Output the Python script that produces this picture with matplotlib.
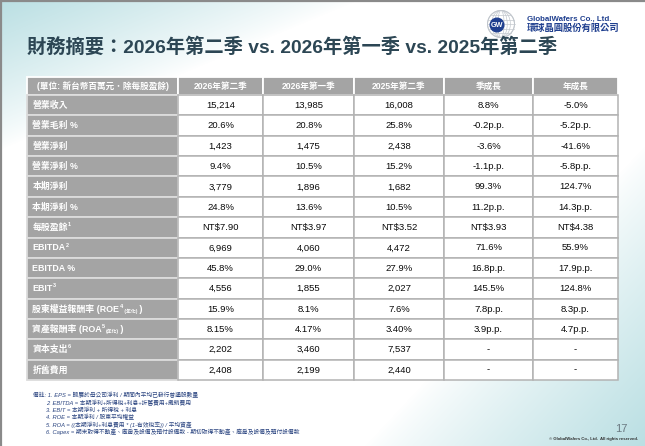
import numpy as np
import matplotlib
matplotlib.use("Agg")
import matplotlib.pyplot as plt
from matplotlib.patches import Rectangle, Circle, Ellipse

# ---------------- data ----------------
title = "財務摘要：2026年第二季 vs. 2026年第一季 vs. 2025年第二季"
header = ["(單位: 新台幣百萬元．除每股盈餘)", "2026年第二季", "2026年第一季", "2025年第二季", "季成長", "年成長"]

# row labels as segments: (text, kind) kind: n = normal, sup = superscript, sub = subscript
row_labels = [
    [("營業收入", "n")],
    [("營業毛利 %", "n")],
    [("營業淨利", "n")],
    [("營業淨利 %", "n")],
    [("本期淨利", "n")],
    [("本期淨利 %", "n")],
    [("每股盈餘", "n"), ("1", "sup")],
    [("EBITDA", "n"), ("2", "sup")],
    [("EBITDA %", "n")],
    [("EBIT", "n"), ("3", "sup")],
    [("股東權益報酬率 (ROE", "n"), ("4", "sup"), (" (年化)", "sub"), (" )", "n")],
    [("資產報酬率 (ROA", "n"), ("5", "sup"), ("(年化)", "sub"), (" )", "n")],
    [("資本支出", "n"), ("6", "sup")],
    [("折舊費用", "n")],
]
q2_2026 = ["15,214", "20.6%", "1,423", "9.4%", "3,779", "24.8%", "NT$7.90", "6,969", "45.8%", "4,556", "15.9%", "8.15%", "2,202", "2,408"]
q1_2026 = ["13,985", "20.8%", "1,475", "10.5%", "1,896", "13.6%", "NT$3.97", "4,060", "29.0%", "1,855", "8.1%", "4.17%", "3,460", "2,199"]
q2_2025 = ["16,008", "25.8%", "2,438", "15.2%", "1,682", "10.5%", "NT$3.52", "4,472", "27.9%", "2,027", "7.6%", "3.40%", "7,537", "2,440"]
qoq = ["8.8%", "-0.2p.p.", "-3.6%", "-1.1p.p.", "99.3%", "11.2p.p.", "NT$3.93", "71.6%", "16.8p.p.", "145.5%", "7.8p.p.", "3.9p.p.", "-", "-"]
yoy = ["-5.0%", "-5.2p.p.", "-41.6%", "-5.8p.p.", "124.7%", "14.3p.p.", "NT$4.38", "55.9%", "17.9p.p.", "124.8%", "8.3p.p.", "4.7p.p.", "-", "-"]

footnotes = [
    "備註: 1. EPS = 歸屬於母公司淨利 / 期間內平均已發行普通股數量",
    "2. EBITDA = 本期淨利+所得稅+利息+折舊費用+攤銷費用",
    "3. EBIT = 本期淨利 + 所得稅 + 利息",
    "4. ROE = 本期淨利 / 股東平均權益",
    "5. ROA = ((本期淨利+利息費用 * (1-有效稅率)) / 平均資產",
    "6. Capex = 期末取得不動產、廠房及設備及預付設備款 - 期初取得不動產、廠房及設備及預付設備款",
]

# ---------------- figure ----------------
W, H = 645, 446
fig = plt.figure(figsize=(W / 100, H / 100), dpi=100)
ax = fig.add_axes([0, 0, 1, 1])
FAM = ['Liberation Sans', 'Noto Sans CJK TC', 'DejaVu Sans']
CJK = ['Noto Sans CJK TC', 'Liberation Sans', 'DejaVu Sans']

# background gradient
yy, xx = np.mgrid[0:H, 0:W] + 0.5
d1 = xx / 360 + yy / 150
w1 = np.clip(1 - d1, 0, 1) ** 0.85
d2 = (W - xx) / 280 + (H - yy) / 300
w2 = np.clip(1 - d2, 0, 1) ** 0.85
wt = np.maximum(w1, w2)
teal = np.array([0.73, 0.875, 0.89])
img = 1 - wt[..., None] * (1 - teal)
ax.imshow(img, extent=(0, W, H, 0), zorder=0, aspect='auto', interpolation='bilinear')
ax.set_xlim(0, W)
ax.set_ylim(H, 0)
ax.axis('off')

# frame
ax.plot([0, W], [0.7, 0.7], color='#8a8a8a', lw=1.6, zorder=5)
ax.plot([0.7, 0.7], [0, H], color='#8a8a8a', lw=1.6, zorder=5)

renderer = fig.canvas.get_renderer()


def seg_text(x, y, parts, size, color, weight='normal', ha='left'):
    widths = []
    for txt, kind in parts:
        s = size if kind == 'n' else (size * 0.62 if kind == 'sup' else size * 0.55)
        t = ax.text(0, 0, txt, fontsize=s, family=FAM, weight=weight)
        widths.append(t.get_window_extent(renderer).width)
        t.remove()
    total = sum(widths)
    cx = x if ha == 'left' else x - total / 2
    for (txt, kind), wd in zip(parts, widths):
        if kind == 'n':
            ax.text(cx, y, txt, fontsize=size, family=FAM, color=color, weight=weight, va='center', ha='left', zorder=6)
        elif kind == 'sup':
            ax.text(cx, y - 2.8, txt, fontsize=size * 0.62, family=FAM, color=color, weight=weight, va='center', ha='left', zorder=6)
        else:
            ax.text(cx, y + 2.2, txt, fontsize=size * 0.55, family=FAM, color=color, weight=weight, va='center', ha='left', zorder=6)
        cx += wd


# title
ax.text(27, 47.5, title, fontsize=13.9, family=FAM, weight='bold', color='#2c4654', va='center', ha='left', zorder=6)

# logo
gx, gy, gr = 501, 24, 13.5
ax.add_patch(Circle((gx, gy), gr, fill=False, ec='#b9bfc6', lw=0.7, zorder=5))
for ew in [0.35, 0.7, 1.05, 1.5]:
    ax.add_patch(Ellipse((gx, gy), gr * ew * 2 * 0.66, gr * 2, fill=False, ec='#c3c8ce', lw=0.5, zorder=5))
for dy in [-9, -4.5, 0, 4.5, 9]:
    hw = np.sqrt(max(gr ** 2 - dy ** 2, 0))
    ax.plot([gx - hw, gx + hw], [gy + dy, gy + dy], color='#c3c8ce', lw=0.5, zorder=5)
ax.add_patch(Circle((497, 25), 6.8, color='#1f3f8f', zorder=6))
ax.text(497, 25.3, "GW", fontsize=5.2, family=FAM, weight='bold', color='white', ha='center', va='center', zorder=7)
ax.text(527, 19.5, "GlobalWafers Co., Ltd.", fontsize=5.7, family=FAM, weight='bold', color='#1f3f8f', ha='left', va='center', zorder=6)
ax.text(527, 28.5, "環球晶圓股份有限公司", fontsize=6.7, family=CJK, weight='bold', color='#1f3f8f', ha='left', va='center', zorder=6)

# table
col_edges = [27, 178, 263, 354, 444, 533, 618]
head_top, head_bot = 76.5, 95.0
tab_bot = 380.0
nrows = len(row_labels)
rh = (tab_bot - head_bot) / nrows
GRAY = '#a4a4a4'
LINE = '#b3b3b3'

for j in range(6):
    ax.add_patch(Rectangle((col_edges[j], head_top), col_edges[j + 1] - col_edges[j], head_bot - head_top,
                           fc=GRAY, ec='white', lw=1.3, zorder=2))
    ax.text((col_edges[j] + col_edges[j + 1]) / 2, (head_top + head_bot) / 2 + 0.3, header[j], fontsize=6.2,
            family=FAM, color='white', weight='bold', ha='center', va='center', zorder=6)

cols = [q2_2026, q1_2026, q2_2025, qoq, yoy]
for i in range(nrows):
    y0 = head_bot + i * rh
    yc = y0 + rh / 2
    ax.add_patch(Rectangle((col_edges[0], y0), col_edges[1] - col_edges[0], rh, fc=GRAY, ec='#dcdcdc', lw=1.3, zorder=2))
    seg_text(32.5, yc + 0.3, row_labels[i], 6.4, 'white', weight='bold')
    for j, col in enumerate(cols):
        x0, x1 = col_edges[j + 1], col_edges[j + 2]
        ax.add_patch(Rectangle((x0, y0), x1 - x0, rh, fc='white', ec=LINE, lw=1.1, zorder=2))
        ax.text((x0 + x1) / 2, yc + 0.3, col[i], fontsize=6.8, family=FAM, color='#0a0a0a',
                ha='center', va='center', zorder=6)

# footnotes
fy = [395.5, 403.2, 410.5, 417.5, 424.7, 432.0]
for k, line in enumerate(footnotes):
    ax.text(33 if k == 0 else 46.5, fy[k], line, fontsize=4.15, family=FAM, style='italic', color='#2a4480',
            ha='left', va='center', zorder=6)

ax.text(621, 429, "17", fontsize=8, family=FAM, color='#6b7a82', ha='center', va='center', zorder=6)
ax.text(638, 439, "© GlobalWafers Co., Ltd.  All rights reserved.", fontsize=3.1, family=FAM, weight='bold',
        color='#333333', ha='right', va='center', zorder=6)

fig.savefig("out.png", dpi=100)
